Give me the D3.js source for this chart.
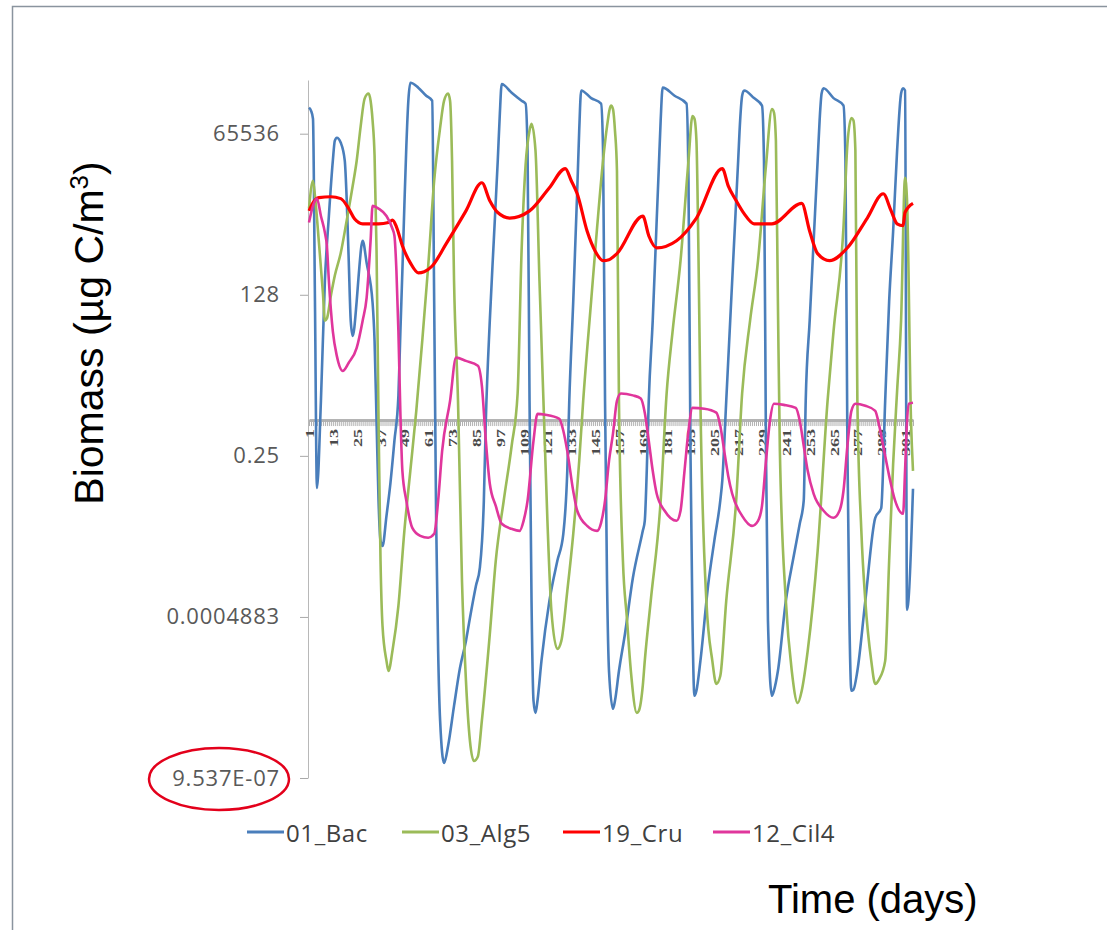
<!DOCTYPE html>
<html>
<head>
<meta charset="utf-8">
<script src="https://cdn.jsdelivr.net/npm/d3@7"></script>
<style>
  body { margin: 0; background: #fff; }
  svg { display: block; }
</style>
</head>
<body>
<svg id="chart" width="1107" height="930"></svg>
<script>
// day labels on the category axis (every 12th day)
var tickDays = [1, 13, 25, 37, 49, 61, 73, 85, 97, 109, 121, 133, 145, 157, 169, 181, 193, 205, 217, 229, 241, 253, 265, 277, 289, 301]
var lastDay = 305

// biomass axis (log2)
var yTicks = [9.537e-7, 0.0004883, 0.25, 128, 65536]
var yLabels = ["9.537E-07", "0.0004883", "0.25", "128", "65536"]

var seriesNames = ["01_Bac", "03_Alg5", "19_Cru", "12_Cil4"]

// [day, biomass]
var bac = [[1,1.8e5],[2,1.6e5],[3,1.17e5],[4,100],[5,0.072],[7,2.1],[9,220],[11,2700],[13,2.3e4],[14,5.0e4],[15,5.6e4],[17,4.6e4],[19,2.3e4],[20,4900],[21,480],[22,47],[23,26],[25,100],[26,270],[28,1040],[30,440],[33,94],[34,21.5],[35,0.97],[36,0.044],[37,0.0093],[38,0.0076],[40,0.0245],[42,0.088],[44,0.45],[46,2.55],[47,31],[48,324],[49,4000],[50,4.1e4],[51,2.35e5],[52,4.7e5],[56,3.9e5],[60,2.85e5],[63,2.35e5],[64,100],[65,0.02],[66,1.31e-4],[67,8.7e-6],[69,1.7e-6],[71,3.3e-6],[74,1.56e-5],[77,6.8e-5],[80,1.93e-4],[82,4.7e-4],[85,1.62e-3],[87,3.3e-3],[89,0.044],[90,0.97],[92,47],[94,1040],[96,2.3e4],[97,1.3e5],[98,4.5e5],[103,3.2e5],[108,2.35e5],[110,2.1e5],[111,3.4e4],[112,2.1],[113,9.1e-4],[114,1.9e-5],[115,1.19e-5],[116,1.9e-5],[118,8.9e-5],[122,9.1e-4],[126,4.3e-3],[129,0.0122],[131,0.14],[132,2.1],[134,100],[136,7200],[137,7.4e4],[138,3.5e5],[143,2.6e5],[148,2.1e5],[149,3.4e4],[150,2.1],[151,1.96e-3],[152,6.0e-5],[154,1.39e-5],[155,1.9e-5],[157,6.0e-5],[160,2.5e-4],[164,2.2e-3],[169,0.0137],[170,0.0202],[171,0.14],[172,2.1],[174,47],[176,2300],[177,1.56e4],[178,1.1e5],[179,3.9e5],[185,2.85e5],[191,2.1e5],[192,1.06e4],[193,0.30],[194,4.2e-4],[195,2.3e-5],[196,2.8e-5],[198,8.9e-5],[202,1.8e-3],[205,9.3e-3],[208,0.044],[209,0.095],[211,2.1],[213,47],[215,1040],[217,2.3e4],[218,1.1e5],[219,2.85e5],[220,3.5e5],[225,2.6e5],[229,1.95e5],[230,2.3e4],[231,0.30],[232,4.2e-4],[234,2.3e-5],[235,2.8e-5],[237,6.0e-5],[241,9.1e-4],[245,5.2e-3],[248,0.018],[250,0.044],[251,2.1],[253,47],[255,1040],[257,2.3e4],[258,1.1e5],[259,3.1e5],[260,3.8e5],[265,2.6e5],[270,1.95e5],[271,2.3e4],[272,0.30],[273,4.2e-4],[274,2.8e-5],[275,2.9e-5],[277,6.0e-5],[281,9.1e-4],[286,0.0227],[289,0.033],[291,2.1],[293,100],[295,1500],[297,3.4e4],[299,3.1e5],[300,3.8e5],[301,3.5e5],[302,6.4e-4],[305,0.070]]

var alg5 = [[1,3600],[3,1.06e4],[4,5900],[6,960],[8,138],[9,47],[10,51],[12,123],[14,270],[17,650],[20,2300],[23,8700],[25,2.3e4],[27,8.7e4],[29,2.55e5],[31,3.1e5],[32,2.35e5],[33,1.1e5],[34,2.8e4],[35,700],[36,0.97],[37,0.0043],[38,3.45e-4],[40,8.9e-5],[41,6.0e-5],[43,1.31e-4],[46,7.5e-4],[49,0.0137],[52,0.14],[55,1.43],[58,21.5],[61,390],[64,1.06e4],[67,8.3e4],[69,2.35e5],[71,3.1e5],[72,2.35e5],[73,2.3e4],[74,220],[76,2.1],[78,1.96e-3],[80,4.1e-5],[82,4.0e-6],[84,1.84e-6],[86,2.2e-6],[88,8.7e-6],[92,2.5e-4],[95,0.0043],[99,0.044],[103,0.37],[106,2.8],[108,700],[110,1.9e4],[112,7.4e4],[113,9.6e4],[115,3.4e4],[117,220],[119,2.1],[121,0.0202],[123,6.2e-4],[126,1.41e-4],[128,1.93e-4],[131,1.33e-3],[134,0.0122],[137,0.205],[139,2.1],[143,100],[146,1720],[149,2.3e4],[151,8.7e4],[153,1.95e5],[154,1.7e5],[155,7.4e4],[156,1.56e4],[157,2.1],[159,0.0043],[161,4.7e-4],[163,6.0e-5],[166,1.19e-5],[167,1.28e-5],[169,3.4e-5],[170,8.9e-5],[173,9.1e-4],[178,0.044],[181,2.8],[184,31],[188,480],[192,2.3e4],[194,1.3e5],[195,1.17e5],[196,5.0e4],[197,700],[198,2.1],[201,9.1e-4],[204,8.9e-5],[206,3.65e-5],[208,4.96e-5],[211,9.1e-4],[216,0.044],[219,2.8],[223,47],[227,480],[231,1.9e4],[234,1.7e5],[235,1.5e5],[236,5.0e4],[237,100],[238,0.30],[241,9.1e-4],[244,6.0e-5],[247,1.74e-5],[249,2.8e-5],[252,1.31e-4],[257,6.3e-3],[262,2.1],[265,31],[270,1720],[272,4.4e4],[274,1.2e5],[275,1.1e5],[276,3.4e4],[277,2.1],[279,0.0137],[281,9.1e-4],[284,8.9e-5],[286,3.65e-5],[288,4.4e-5],[291,8.9e-5],[293,0.0043],[295,0.183],[297,3.1],[299,47],[301,1.19e4],[302,4900],[304,0.97],[305,0.14]]

var cru = [[1,3300],[3,4500],[6,5500],[12,5700],[17,5300],[21,3600],[24,2400],[28,2000],[36,2000],[41,2100],[43,2300],[45,1780],[48,855],[52,440],[56,300],[59,313],[63,390],[70,920],[80,3300],[88,9800],[92,4900],[96,3100],[102,2500],[112,3300],[122,8100],[130,1.7e4],[133,1.06e4],[136,6400],[141,1500],[145,700],[149,480],[152,498],[156,630],[169,2700],[172,1260],[176,790],[186,1040],[196,2500],[209,1.7e4],[212,8700],[216,4900],[220,2960],[225,2000],[234,2000],[249,4400],[253,1500],[257,630],[263,480],[272,790],[282,2500],[290,6400],[294,3300],[297,2000],[300,1860],[301,3100],[305,4400]]

var cil4 = [[1,2100],[3,4000],[5,5300],[7,2700],[9,1420],[10,855],[11,220],[13,31],[15,12],[18,6.7],[21,9.2],[25,16.4],[28,47],[30,114],[32,1040],[33,4000],[36,3600],[40,2700],[43,1650],[44,1260],[45,324],[46,31],[47,1.27],[48,0.14],[50,0.044],[53,0.0154],[57,0.0113],[61,0.0105],[64,0.0122],[66,0.044],[68,0.30],[72,2.1],[75,11.2],[80,9.9],[86,8.2],[88,3.8],[90,0.45],[92,0.085],[95,0.036],[98,0.018],[103,0.0148],[107,0.0137],[109,0.0202],[111,0.044],[114,0.45],[116,1.27],[120,1.23],[127,1.05],[129,0.66],[131,0.30],[134,0.064],[136,0.0298],[141,0.0166],[146,0.0137],[148,0.0187],[150,0.044],[152,0.205],[154,0.59],[156,2.1],[158,2.8],[164,2.6],[168,2.3],[170,1.33],[172,0.45],[174,0.14],[176,0.0575],[180,0.0298],[186,0.0202],[188,0.0298],[190,0.14],[192,0.66],[194,1.6],[200,1.55],[206,1.33],[208,0.8],[210,0.30],[212,0.115],[214,0.0575],[219,0.0245],[224,0.0166],[227,0.0202],[229,0.036],[231,0.205],[233,0.97],[235,1.88],[240,1.8],[246,1.6],[248,0.97],[250,0.37],[252,0.14],[255,0.0575],[260,0.0298],[265,0.0227],[268,0.0298],[270,0.064],[272,0.37],[274,1.43],[276,1.88],[281,1.74],[286,1.43],[288,0.8],[290,0.37],[293,0.115],[296,0.044],[300,0.0265],[301,0.14],[302,0.97],[303,1.88],[305,1.95]]

var series = [bac, alg5, cru, cil4]
var colors = ["#4a7ebb", "#9bbb59", "#ff0000", "#e0369c"]
var widths = [2.6, 2.6, 3.2, 2.6]

var svg = d3.select("#chart")

// frame
svg.append("path")
  .attr("d", "M12.5,930 L12.5,6.5 L1107,6.5")
  .attr("fill", "none")
  .attr("stroke", "#8a949e")
  .attr("stroke-width", 1.5)

var x = d3.scaleLinear().domain([1, lastDay]).range([309, 913])
var y = d3.scaleLog().base(2).domain([9.5367e-7, 524288]).range([778, 80])

// value axis
var yAxis = svg.append("g")
  .attr("transform", "translate(308,0)")
  .call(d3.axisLeft(y).tickValues(yTicks).tickFormat(function(d, i) { return yLabels[i] })
    .tickSize(8).tickSizeOuter(0).tickPadding(20))
yAxis.select(".domain").attr("stroke", "#b8b8b8")
yAxis.selectAll(".tick line").attr("stroke", "#a8a8a8")
yAxis.selectAll("text")
  .attr("fill", "#595959")
  .style("font-family", "'Open Sans', sans-serif")
  .style("font-size", "22px")
  .style("letter-spacing", "0.8px")

// category axis crossing at 1
var xAxis = svg.append("g")
  .attr("transform", "translate(0," + y(1) + ")")
  .call(d3.axisBottom(x).tickValues(d3.range(1, lastDay + 1)).tickFormat("")
    .tickSize(6).tickSizeOuter(0))
xAxis.select(".domain").attr("stroke", "#b4b4b4").attr("stroke-width", 3)
xAxis.selectAll(".tick line").attr("stroke", "#b0b0b0")

var xLab = svg.append("g")
  .attr("transform", "translate(0," + y(1) + ")")
  .call(d3.axisBottom(x).tickValues(tickDays).tickSize(0))
xLab.select(".domain").remove()
xLab.selectAll("text")
  .attr("transform", "rotate(-90)")
  .attr("x", -9)
  .attr("y", 4.5)
  .attr("dy", null)
  .attr("textLength", function(d) { return String(d).length * 9 })
  .attr("lengthAdjust", "spacingAndGlyphs")
  .style("text-anchor", "end")
  .style("font-family", "'Liberation Serif', serif")
  .style("font-size", "13px")
  .style("font-weight", "bold")
  .attr("fill", "#4a4a4a")

// series
var line = d3.line()
  .x(function(d) { return x(d[0]) })
  .y(function(d) { return y(d[1]) })
  .curve(d3.curveMonotoneX)

svg.append("g").selectAll("path")
  .data(series)
  .enter()
  .append("path")
  .attr("d", line)
  .attr("fill", "none")
  .attr("stroke", function(d, i) { return colors[i] })
  .attr("stroke-width", function(d, i) { return widths[i] })
  .attr("stroke-linejoin", "round")

// legend
var legX = [247, 402, 563, 713]
var leg = svg.append("g").selectAll("g")
  .data(seriesNames)
  .enter()
  .append("g")
  .attr("transform", function(d, i) { return "translate(" + legX[i] + ",832)" })
leg.append("line")
  .attr("x1", 0).attr("x2", 37)
  .attr("stroke", function(d, i) { return colors[i] })
  .attr("stroke-width", 3)
leg.append("text")
  .attr("x", 39)
  .attr("y", 10)
  .attr("fill", "#404040")
  .style("font-family", "'Open Sans', sans-serif")
  .style("font-size", "24px")
  .style("letter-spacing", "0.6px")
  .text(function(d) { return d })

// axis titles
svg.append("text")
  .attr("transform", "translate(103,333) rotate(-90)")
  .attr("text-anchor", "middle")
  .style("font-family", "'Liberation Sans', Arial, sans-serif")
  .style("font-size", "41px")
  .attr("fill", "#000")
  .text("Biomass (µg C/m")
  .append("tspan")
  .attr("baseline-shift", "super")
  .style("font-size", "26px")
  .text("3")
  .select(function() { return this.parentNode })
  .append("tspan")
  .text(")")

svg.append("text")
  .attr("x", 768)
  .attr("y", 913)
  .style("font-family", "'Liberation Sans', Arial, sans-serif")
  .style("font-size", "40px")
  .attr("fill", "#000")
  .text("Time (days)")

// red mark round the lowest label
svg.append("ellipse")
  .attr("cx", 219)
  .attr("cy", 779)
  .attr("rx", 70)
  .attr("ry", 31)
  .attr("fill", "none")
  .attr("stroke", "#e3001b")
  .attr("stroke-width", 2.5)
</script>
</body>
</html>
